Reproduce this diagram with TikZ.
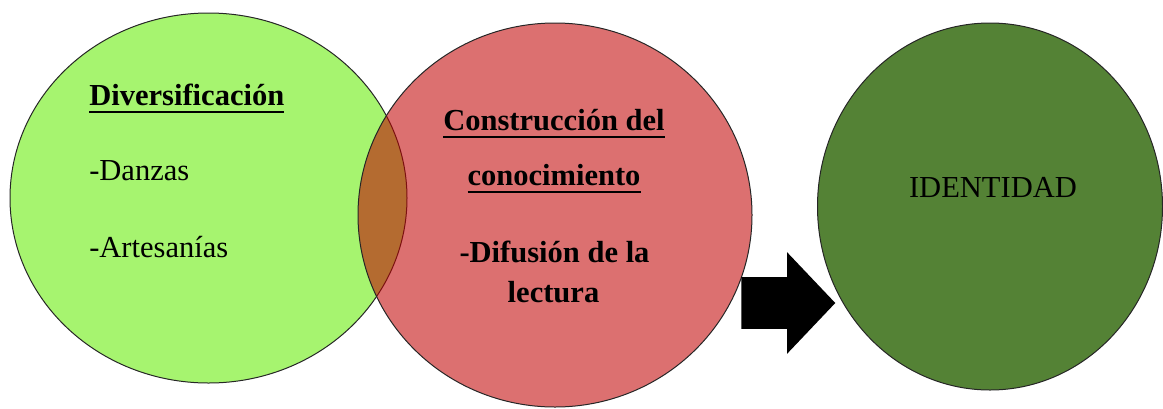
\documentclass[tikz,border=0pt]{standalone}
\usepackage{fontspec}
\setmainfont{LiberationSerif}[Extension=.ttf, UprightFont=*-Regular, BoldFont=*-Bold]
\usepackage{tikz}
\usetikzlibrary{shapes.geometric,shapes.arrows,positioning}
\definecolor{dvgreen}{HTML}{A6F46F}
\definecolor{dvred}{HTML}{C00000}
\definecolor{dvdark}{HTML}{548235}
\newcommand{\ulin}[1]{\setbox0\hbox{#1}\rlap{\rule[-6.2pt]{\wd0}{2pt}}\box0}
\tikzset{
  blob/.style={ellipse, draw=black!85, line width=0.75pt, inner sep=0pt},
  lbl/.style={font=\fontsize{22.9}{27}\selectfont, inner sep=0pt},
  hdr/.style={lbl, font=\fontsize{22.9}{27}\selectfont\bfseries},
  bigarrow/.style={single arrow, fill=black, draw=none, inner xsep=0pt, inner ysep=19.125pt,
    minimum height=70.5pt, single arrow head extend=18.75pt, single arrow tip angle=93},
}
\begin{document}
\begin{tikzpicture}[x=0.75pt,y=-0.75pt]
\useasboundingbox (0,0) rectangle (1163,408);
% circles
\node[blob, fill=dvgreen, minimum width=297.75pt, minimum height=277.5pt] (div) at (208.5,198) {};
\node[blob, fill=dvred, fill opacity=0.56, minimum width=295.5pt, minimum height=288pt] (con) at (555,215) {};
\node[blob, fill=dvdark, minimum width=258.75pt, minimum height=275.25pt] (ide) at (990,206.5) {};

% texts
\node[hdr, anchor=base west] (divT) at (89,105) {\ulin{Diversificación}};
\node[lbl, anchor=base west] (divA) at (89,180) {-Danzas};
\node[lbl, anchor=base west] (divB) at (89,257) {-Artesanías};

\node[hdr, anchor=base] (conT1) at (554,130) {\ulin{Construcción del}};
\node[hdr, anchor=base] (conT2) at (554,185) {\ulin{conocimiento}};
\node[hdr, anchor=base] (conA1) at (554.5,262) {-Difusión de la};
\node[hdr, anchor=base] (conA2) at (553.5,302) {lectura};

\node[lbl, anchor=base] (ideT) at (993,197) {IDENTIDAD};

% arrow
\node[bigarrow, anchor=tail] (arr) at (741,303) {};
\end{tikzpicture}
\end{document}
